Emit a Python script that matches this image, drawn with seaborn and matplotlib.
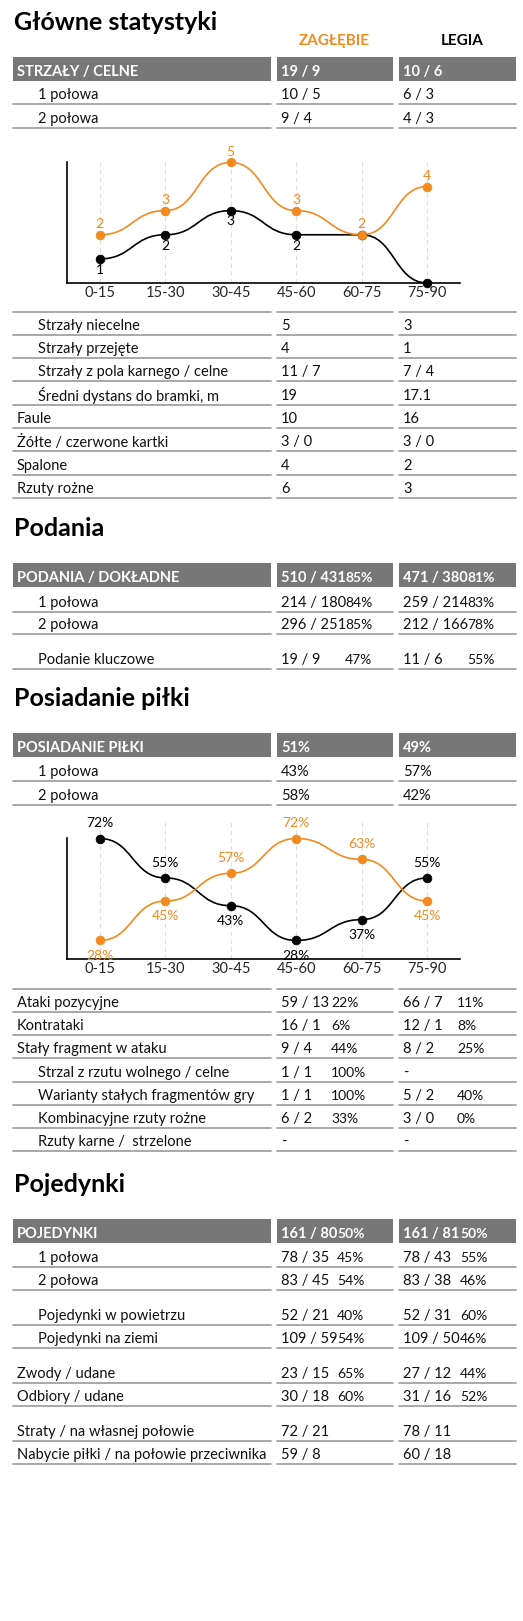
import numpy as np
import matplotlib
matplotlib.use("Agg")
import matplotlib.pyplot as plt
from matplotlib.patches import Rectangle, PathPatch
from matplotlib.path import Path
import pandas as pd
import seaborn as sns

sns.set_theme(style="white")
plt.rcParams['font.family'] = ['Lato', 'DejaVu Sans']

ORANGE = '#F28A1E'
GREY_BAR = '#777777'
LINE = '#9a9a9a'
W, H = 523, 1621

team_home = 'ZAGŁĘBIE'
team_away = 'LEGIA'
periods = ['0-15', '15-30', '30-45', '45-60', '60-75', '75-90']

# shots per period
shots_home = [2, 3, 5, 3, 2, 4]
shots_away = [1, 2, 3, 2, 2, 0]
shots_home_pos = ['a', 'a', 'a', 'a', 'a', 'a']
shots_away_pos = ['b', 'b', 'b', 'b', None, None]

# possession per period
poss_home = [28, 45, 57, 72, 63, 45]
poss_away = [72, 55, 43, 28, 37, 55]
poss_home_pos = ['b', 'b', 'a', 'a', 'a', 'b']
poss_away_pos = ['a', 'a', 'b', 'b', 'b', 'a']

# (y_text, label, indent, home, away, home_pct, away_pct, header)
shots_rows = [
    (72, 'STRZAŁY / CELNE', 0, '19 / 9', '10 / 6', '', '', True),
    (95, '1 połowa', 1, '10 / 5', '6 / 3', '', '', False),
    (119, '2 połowa', 1, '9 / 4', '4 / 3', '', '', False),
    (326, 'Strzały niecelne', 1, '5', '3', '', '', False),
    (349, 'Strzały przejęte', 1, '4', '1', '', '', False),
    (372, 'Strzały z pola karnego / celne', 1, '11 / 7', '7 / 4', '', '', False),
    (396, 'Średni dystans do bramki, m', 1, '19', '17.1', '', '', False),
    (419, 'Faule', 0, '10', '16', '', '', False),
    (442, 'Żółte / czerwone kartki', 0, '3 / 0', '3 / 0', '', '', False),
    (466, 'Spalone', 0, '4', '2', '', '', False),
    (489, 'Rzuty rożne', 0, '6', '3', '', '', False),
]
pass_rows = [
    (578, 'PODANIA / DOKŁADNE', 0, '510 / 431', '471 / 380', '85%', '81%', True),
    (603, '1 połowa', 1, '214 / 180', '259 / 214', '84%', '83%', False),
    (625, '2 połowa', 1, '296 / 251', '212 / 166', '85%', '78%', False),
    (660, 'Podanie kluczowe', 1, '19 / 9', '11 / 6', '47%', '55%', False),
]
poss_rows = [
    (748, 'POSIADANIE PIŁKI', 0, '51%', '49%', '', '', True),
    (772, '1 połowa', 1, '43%', '57%', '', '', False),
    (796, '2 połowa', 1, '58%', '42%', '', '', False),
]
attack_rows = [
    (1003, 'Ataki pozycyjne', 0, '59 / 13', '66 / 7', '22%', '11%', False),
    (1026, 'Kontrataki', 0, '16 / 1', '12 / 1', '6%', '8%', False),
    (1049, 'Stały fragment w ataku', 0, '9 / 4', '8 / 2', '44%', '25%', False),
    (1073, 'Strzal z rzutu wolnego / celne', 1, '1 / 1', '-', '100%', '', False),
    (1096, 'Warianty stałych fragmentów gry', 1, '1 / 1', '5 / 2', '100%', '40%', False),
    (1119, 'Kombinacyjne rzuty rożne', 1, '6 / 2', '3 / 0', '33%', '0%', False),
    (1142, 'Rzuty karne /  strzelone', 1, '-', '-', '', '', False),
]
duel_rows = [
    (1234, 'POJEDYNKI', 0, '161 / 80', '161 / 81', '50%', '50%', True),
    (1258, '1 połowa', 1, '78 / 35', '78 / 43', '45%', '55%', False),
    (1281, '2 połowa', 1, '83 / 45', '83 / 38', '54%', '46%', False),
    (1316, 'Pojedynki w powietrzu', 1, '52 / 21', '52 / 31', '40%', '60%', False),
    (1339, 'Pojedynki na ziemi', 1, '109 / 59', '109 / 50', '54%', '46%', False),
    (1374, 'Zwody / udane', 0, '23 / 15', '27 / 12', '65%', '44%', False),
    (1397, 'Odbiory / udane', 0, '30 / 18', '31 / 16', '60%', '52%', False),
    (1432, 'Straty / na własnej połowie', 0, '72 / 21', '78 / 11', '', '', False),
    (1455, 'Nabycie piłki / na połowie przeciwnika', 0, '59 / 8', '60 / 18', '', '', False),
]

fig = plt.figure(figsize=(W / 100, H / 100), dpi=100)
ax = fig.add_axes([0, 0, 1, 1])
ax.set_xlim(0, W)
ax.set_ylim(H, 0)
ax.axis('off')

COLS = [(13, 271), (277, 393), (399, 516)]


def sep(y):
    for x0, x1 in COLS:
        ax.plot([x0, x1], [y, y], color=LINE, lw=1.2)


def table(rows, pct_x):
    for y, lab, ind, v1, v2, p1, p2, head in rows:
        if head:
            for x0, x1 in COLS:
                ax.add_patch(Rectangle((x0, y - 15), x1 - x0, 24, color=GREY_BAR, lw=0))
            col, wt = 'white', 'bold'
        else:
            col, wt = '#111111', 'normal'
            sep(y + 8.5)
        fs = 10.5
        ax.text(38 if ind else 17, y, lab, fontsize=fs, color=col, weight=wt, va='center')
        ax.text(281, y, v1, fontsize=fs, color=col, weight=wt, va='center')
        ax.text(403, y, v2, fontsize=fs, color=col, weight=wt, va='center')
        if p1:
            ax.text(pct_x[0], y, p1, fontsize=10, color=col, weight=wt, va='center')
        if p2:
            ax.text(pct_x[1], y, p2, fontsize=10, color=col, weight=wt, va='center')


def title(y, s):
    ax.text(14, y, s, fontsize=18, weight='bold', va='center', color='black')


def curve(a, vals, color):
    verts = [(0, vals[0])]
    codes = [Path.MOVETO]
    for i in range(1, len(vals)):
        verts += [(i - 0.5, vals[i - 1]), (i - 0.5, vals[i]), (i, vals[i])]
        codes += [Path.CURVE4] * 3
    a.add_patch(PathPatch(Path(verts, codes), fill=False, edgecolor=color, lw=1.2, zorder=3))


def chart(box, ylim, series, fmt, off):
    l, t, r, b = box
    a = fig.add_axes([l / W, 1 - b / H, (r - l) / W, (b - t) / H])
    a.patch.set_alpha(0)
    for x in range(len(periods)):
        a.axvline(x, color='#dddddd', ls=(0, (4, 3)), lw=0.8, zorder=1)
    for vals, pos, color in series:
        curve(a, vals, color)
        df = pd.DataFrame({'x': range(len(vals)), 'v': vals})
        sns.scatterplot(data=df, x='x', y='v', color=color, s=40, edgecolor=color,
                        ax=a, zorder=4, clip_on=False)
        for i, (v, p) in enumerate(zip(vals, pos)):
            if p is None:
                continue
            dy = off if p == 'a' else -off
            a.text(i, v + dy, fmt(v), ha='center', va='center', fontsize=10, color=color,
                   clip_on=False)
    a.set_xlim(-0.5, 5.5)
    a.set_ylim(*ylim)
    a.set_xticks(range(len(periods)))
    a.set_xticklabels(periods, fontsize=10.5)
    a.set_yticks([])
    a.set_xlabel('')
    a.set_ylabel('')
    a.tick_params(axis='x', length=0, pad=2)
    for s in ['top', 'right']:
        a.spines[s].set_visible(False)
    for s in ['left', 'bottom']:
        a.spines[s].set_color('black')
        a.spines[s].set_linewidth(1.2)
    return a


# section 1
title(22, 'Główne statystyki')
ax.text(334, 41, team_home, fontsize=11, weight='bold', color=ORANGE, ha='center', va='center')
ax.text(462, 41, team_away, fontsize=11, weight='bold', color='black', ha='center', va='center')
table(shots_rows[:3], (0, 0))
c1 = chart((67, 160, 460, 283), (0, 5.1),
           [(shots_away, shots_away_pos, 'black'), (shots_home, shots_home_pos, ORANGE)],
           lambda v: f'{v}', 0.45)
c1.spines['left'].set_bounds(0, 5)
sep(312)
table(shots_rows[3:], (0, 0))

# section 2
title(528, 'Podania')
table(pass_rows, (345, 467))

# section 3
title(699, 'Posiadanie piłki')
table(poss_rows, (0, 0))
c2 = chart((67, 820, 460, 959), (20, 80),
           [(poss_away, poss_away_pos, 'black'), (poss_home, poss_home_pos, ORANGE)],
           lambda v: f'{v}%', 6.5)
c2.spines['left'].set_bounds(20, 72.4)
sep(989)
table(attack_rows, (331, 457))

# section 4
title(1185, 'Pojedynki')
table(duel_rows, (337, 460))

fig.savefig('out.png', dpi=100)
